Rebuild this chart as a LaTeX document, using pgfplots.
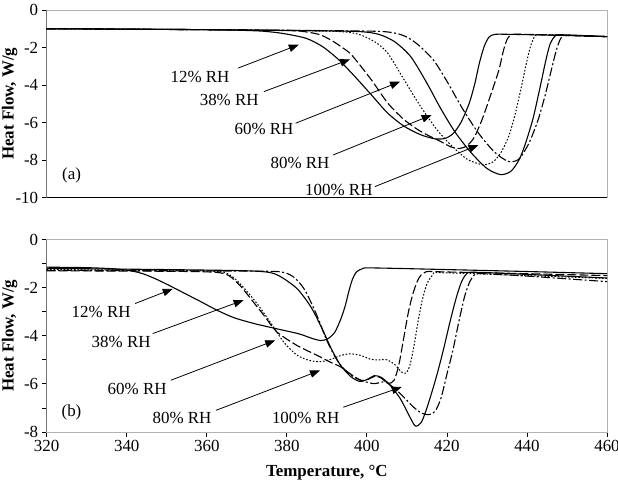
\documentclass[border=0pt]{standalone}
\usepackage{fontspec}
\setmainfont{Liberation Serif}
\usepackage{pgfplots}
\pgfplotsset{compat=1.18}
\usetikzlibrary{arrows.meta}
\pgfplotsset{
  myaxis/.style={
    scale only axis, width=560.3bp,
    xmin=320, xmax=460,
    axis line style={draw=gray!60, line width=0.8bp},
    tick style={black, line width=0.8bp},
    tick align=outside,
    major tick length=5bp, minor tick length=5bp,
    ytick pos=left, xtick pos=bottom,
    /pgf/number format/assume math mode=true,
    /pgf/number format/1000 sep={},
    every tick label/.append style={font=\fontsize{17}{20}\selectfont},
  },
  c1/.style={black, line width=1.1bp, smooth, tension=0.45},
  c2/.style={black, line width=1.1bp, smooth, tension=0.45, dash pattern=on 9bp off 3bp},
  c3/.style={black, line width=1.0bp, smooth, tension=0.45, dash pattern=on 1.6bp off 1.8bp},
  c4/.style={black, line width=1.1bp, smooth, tension=0.45},
  c5/.style={black, line width=1.1bp, smooth, tension=0.45, dash pattern=on 9bp off 2.5bp on 2bp off 2.5bp},
}
\tikzset{arr/.style={black, line width=0.8bp, -{Triangle[length=10bp,width=7.5bp]}}}
\begin{document}
\begin{tikzpicture}[font=\fontsize{17}{20}\selectfont]
\useasboundingbox (0,0) rectangle (618bp,483bp);
% ---------------- (a) ----------------
\begin{axis}[myaxis, at={(46.7bp,285.5bp)}, anchor=south west,
  height=187.5bp, ymin=-10, ymax=0, ytick={-10,-8,...,0}, xtick=\empty,
  ylabel={Heat Flow, W/g},
  every axis y label/.style={at={(rel axis cs:0,0.5)}, xshift=-37bp, rotate=90, anchor=center, font=\fontsize{17}{20}\selectfont\bfseries}]
\draw[black, line width=0.9bp] (rel axis cs:0,1) -- (rel axis cs:0,0) -- (rel axis cs:1,0);
\addplot[c1] coordinates {(320,-1.0)(340,-1.02)(360,-1.05)(368,-1.08)(374,-1.13)(379,-1.25)(384.8,-1.51)(388.9,-1.95)(393,-2.66)(397,-3.55)(401.1,-4.52)(405.2,-5.5)(409.3,-6.2)(413.4,-6.65)(417,-6.87)(419.5,-6.85)(421.5,-6.6)(423.5,-6.0)(425.6,-4.96)(427,-3.9)(428.1,-2.84)(429.3,-1.95)(430.5,-1.45)(432,-1.3)(436,-1.3)(450,-1.36)(460,-1.42)};
\addplot[c2] coordinates {(320,-1.0)(340,-1.02)(360,-1.05)(375,-1.08)(383,-1.12)(388,-1.3)(391,-1.6)(393.5,-1.95)(396.2,-2.4)(401.1,-3.72)(405.2,-4.96)(409.3,-5.85)(413.4,-6.47)(418.3,-7.0)(421,-7.3)(423.2,-7.38)(425,-7.25)(426.8,-6.8)(428.5,-6.0)(429.7,-5.3)(431.3,-4.3)(433,-3.19)(434.2,-2.1)(435.2,-1.5)(436.5,-1.3)(440,-1.3)(460,-1.42)};
\addplot[c3] coordinates {(320,-1.0)(360,-1.05)(380,-1.1)(393,-1.15)(398,-1.3)(402,-1.7)(405.2,-2.3)(409.3,-3.72)(413.4,-5.14)(417.5,-6.38)(421,-7.2)(425,-7.95)(428.9,-8.25)(431.5,-8.1)(433.5,-7.6)(435.5,-6.7)(437,-5.6)(438.5,-4.2)(439.8,-2.9)(440.8,-2.0)(441.8,-1.45)(443,-1.32)(450,-1.35)(460,-1.42)};
\addplot[c4] coordinates {(320,-1.0)(360,-1.05)(385,-1.1)(398,-1.15)(403,-1.3)(407,-1.7)(411,-2.5)(415,-3.9)(418.3,-5.2)(422,-6.5)(426,-7.6)(430,-8.45)(433.4,-8.78)(436,-8.6)(438,-8.0)(439.5,-7.2)(441.5,-5.8)(443.3,-4.1)(444.7,-2.7)(445.8,-1.8)(447,-1.4)(448.5,-1.32)(460,-1.42)};
\addplot[c5] coordinates {(320,-1.0)(360,-1.05)(390,-1.1)(404,-1.15)(409,-1.35)(412.5,-1.8)(416.6,-2.66)(420,-3.8)(424,-5.3)(428,-6.6)(432,-7.6)(435.4,-8.08)(438,-7.95)(440.5,-7.1)(442.8,-5.85)(444.6,-4.5)(446.1,-3.19)(447.4,-2.1)(448.5,-1.5)(450,-1.35)(460,-1.42)};
\draw[arr] (axis cs:367.8,-3.1) -- (axis cs:383,-1.85);
\node at (axis cs:358.3,-3.57) {12\% RH};
\draw[arr] (axis cs:374.3,-4.35) -- (axis cs:395.8,-2.63);
\node at (axis cs:365.6,-4.8) {38\% RH};
\draw[arr] (axis cs:382.2,-6.04) -- (axis cs:408.3,-3.82);
\node at (axis cs:374.3,-6.37) {60\% RH};
\draw[arr] (axis cs:391.6,-7.73) -- (axis cs:416.2,-5.6);
\node at (axis cs:383.3,-8.18) {80\% RH};
\draw[arr] (axis cs:402,-9.42) -- (axis cs:427.9,-7.2);
\node at (axis cs:393,-9.6) {100\% RH};
\node at (axis cs:326.2,-8.8) {(a)};
\end{axis}
% ---------------- (b) ----------------
\begin{axis}[myaxis, at={(46.7bp,51bp)}, anchor=south west,
  height=192.5bp, ymin=-8, ymax=0, ytick={-8,-6,...,0}, minor ytick={-7,-5,-3,-1},
  xtick={320,340,...,460},
  ylabel={Heat Flow, W/g}, xlabel={Temperature, \textdegree C},
  every axis y label/.style={at={(rel axis cs:0,0.5)}, xshift=-37bp, rotate=90, anchor=center, font=\fontsize{17}{20}\selectfont\bfseries},
  every axis x label/.style={at={(rel axis cs:0.5,0)}, yshift=-41bp, anchor=center, font=\fontsize{17}{20}\selectfont\bfseries}]
\draw[black, line width=0.9bp] (rel axis cs:0,1) -- (rel axis cs:0,0) -- (rel axis cs:1,0);
\addplot[c1] coordinates {(320,-1.15)(330,-1.17)(337,-1.22)(341,-1.3)(344,-1.42)(347,-1.62)(350.5,-1.9)(354.6,-2.25)(358.7,-2.6)(362.7,-2.95)(366.8,-3.25)(372,-3.5)(378,-3.73)(383,-3.92)(386.5,-4.12)(388.5,-4.2)(390.3,-4.12)(392,-3.85)(393.5,-3.3)(394.6,-2.75)(395.5,-2.15)(396.4,-1.65)(397.4,-1.35)(398.8,-1.22)(401,-1.18)(420,-1.25)(440,-1.33)(460,-1.42)};
\addplot[c2] coordinates {(320,-1.3)(350,-1.32)(362,-1.36)(365.5,-1.5)(368.5,-1.95)(371.6,-2.59)(374.5,-3.2)(377.5,-3.84)(382.5,-4.4)(387.5,-4.81)(390.8,-5.09)(393.5,-5.3)(396,-5.6)(398.5,-5.85)(400.5,-5.8)(402,-5.68)(403.5,-5.75)(405.3,-5.98)(406.8,-5.85)(408,-5.2)(409.2,-4.1)(410.4,-3.0)(411.6,-2.2)(413,-1.6)(414.8,-1.34)(420,-1.35)(440,-1.42)(460,-1.5)};
\addplot[c3] coordinates {(320,-1.25)(350,-1.28)(362,-1.32)(365,-1.4)(367.5,-1.7)(370,-2.15)(372.5,-2.65)(375.8,-3.42)(379.2,-4.26)(382.5,-4.8)(385.5,-5.02)(388.3,-5.08)(391,-4.98)(393.5,-4.82)(395.8,-4.75)(398.5,-4.82)(401,-4.98)(403,-5.0)(405,-5.0)(407,-5.2)(408.6,-5.5)(409.8,-5.55)(410.8,-5.2)(411.8,-4.4)(412.8,-3.4)(413.8,-2.55)(415,-1.85)(416.6,-1.45)(418.5,-1.38)(440,-1.5)(460,-1.62)};
\addplot[c4] coordinates {(320,-1.2)(350,-1.25)(370,-1.3)(376,-1.38)(379,-1.6)(382.5,-2.03)(385,-2.55)(386.7,-3.0)(389.2,-3.84)(391,-4.5)(393.3,-5.2)(396,-5.7)(398.3,-5.9)(400.3,-5.8)(401.8,-5.66)(403.5,-5.72)(405.5,-6.0)(408.3,-6.6)(410.5,-7.3)(412.1,-7.75)(413.6,-7.6)(415,-7.0)(416.5,-6.2)(417.7,-5.5)(419.1,-4.6)(420.8,-3.4)(422.4,-2.38)(423.6,-1.78)(424.8,-1.45)(426.5,-1.36)(440,-1.45)(460,-1.6)};
\addplot[c5] coordinates {(320,-1.28)(350,-1.3)(375,-1.32)(379.5,-1.38)(382,-1.6)(384.5,-2.1)(387.5,-3.15)(390,-4.2)(392.5,-5.0)(395,-5.5)(398,-5.82)(401.7,-5.99)(404.6,-5.92)(407.5,-6.27)(409.5,-6.6)(411.7,-6.97)(413.5,-7.2)(415.4,-7.28)(417,-7.15)(418.5,-6.6)(420,-5.6)(421.5,-4.6)(423,-3.4)(424.4,-2.38)(425.6,-1.8)(426.9,-1.47)(429,-1.42)(440,-1.52)(460,-1.75)};
\draw[arr] (axis cs:342.1,-2.66) -- (axis cs:351.5,-2.05);
\node at (axis cs:333.6,-3.0) {12\% RH};
\draw[arr] (axis cs:346.5,-3.91) -- (axis cs:369.2,-2.52);
\node at (axis cs:338.6,-4.26) {38\% RH};
\draw[arr] (axis cs:351,-5.85) -- (axis cs:377.1,-4.19);
\node at (axis cs:342.6,-6.2) {60\% RH};
\draw[arr] (axis cs:362.3,-7.1) -- (axis cs:388.3,-5.44);
\node at (axis cs:353.8,-7.42) {80\% RH};
\draw[arr] (axis cs:394.1,-6.97) -- (axis cs:408.7,-6.13);
\node at (axis cs:384.7,-7.42) {100\% RH};
\node at (axis cs:326.2,-7.17) {(b)};
\end{axis}
\end{tikzpicture}
\end{document}
